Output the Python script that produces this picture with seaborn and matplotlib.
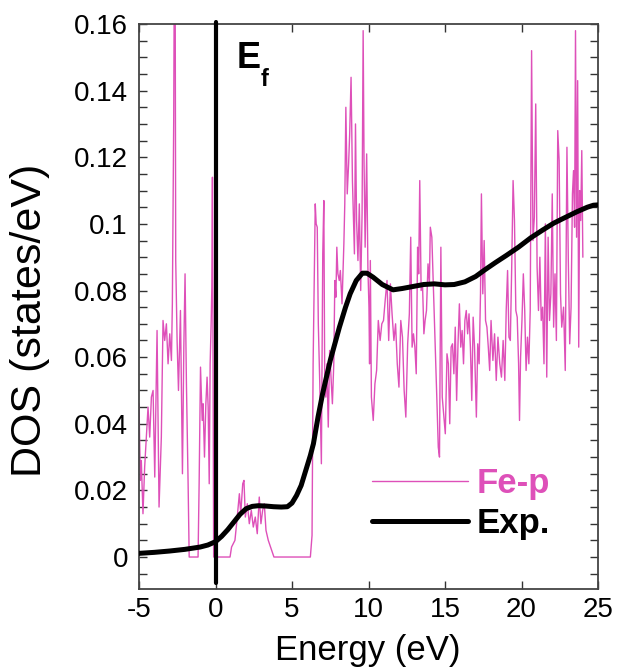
import matplotlib
matplotlib.use("Agg")
import matplotlib.pyplot as plt
import seaborn as sns
import pandas as pd

# ---------------- data ----------------
fe_x = [-5.00, -4.91, -4.85, -4.74, -4.63, -4.41, -4.30, -4.19, -4.08, -3.97,
        -3.82, -3.69, -3.54, -3.43, -3.32, -3.21, -3.10, -2.99, -2.88, -2.82,
        -2.73, -2.69, -2.64, -2.60, -2.51, -2.42, -2.29, -2.16, -2.07, -1.99,
        -1.90, -1.79, -1.72, -1.14, -1.07, -0.98, -0.87, -0.81, -0.72, -0.63,
        -0.55, -0.48, -0.41, -0.35, -0.28, -0.24, -0.20, -0.12, 0.95, 1.05,
        1.27, 1.38, 1.56, 1.65, 1.78, 1.86, 1.95, 2.08, 2.21, 2.34,
        2.47, 2.60, 2.73, 2.86, 2.97, 3.08, 3.19, 3.30, 3.45, 3.67,
        3.82, 6.20, 6.31, 6.38, 6.52, 6.58, 6.65, 6.72, 6.81, 6.92,
        7.01, 7.08, 7.14, 7.21, 7.28, 7.37, 7.46, 7.55, 7.64, 7.73,
        7.80, 7.87, 7.93, 8.00, 8.09, 8.16, 8.27, 8.39, 8.45, 8.52,
        8.61, 8.70, 8.77, 8.86, 8.95, 9.01, 9.08, 9.15, 9.22, 9.31,
        9.40, 9.49, 9.58, 9.65, 9.71, 9.78, 9.88, 9.96, 10.03, 10.07,
        10.12, 10.19, 10.31, 10.42, 10.53, 10.64, 10.76, 10.87, 10.98, 11.09,
        11.21, 11.32, 11.43, 11.54, 11.66, 11.77, 11.88, 11.99, 12.11, 12.22,
        12.33, 12.44, 12.56, 12.67, 12.76, 12.85, 12.94, 13.03, 13.12, 13.21,
        13.28, 13.35, 13.44, 13.53, 13.62, 13.70, 13.79, 13.89, 13.98, 14.04,
        14.14, 14.25, 14.36, 14.47, 14.56, 14.64, 14.73, 14.82, 14.91, 15.02,
        15.13, 15.22, 15.31, 15.40, 15.49, 15.58, 15.67, 15.76, 15.85, 15.94,
        16.03, 16.12, 16.21, 16.30, 16.39, 16.48, 16.57, 16.66, 16.75, 16.84,
        16.93, 17.05, 17.14, 17.23, 17.32, 17.38, 17.47, 17.56, 17.65, 17.74,
        17.83, 17.92, 18.01, 18.13, 18.24, 18.35, 18.46, 18.58, 18.69, 18.80,
        18.91, 19.00, 19.09, 19.18, 19.27, 19.36, 19.45, 19.54, 19.63, 19.72,
        19.81, 19.87, 19.94, 20.03, 20.12, 20.21, 20.30, 20.39, 20.48, 20.57,
        20.66, 20.75, 20.84, 20.93, 21.02, 21.11, 21.20, 21.29, 21.38, 21.47,
        21.56, 21.65, 21.74, 21.83, 21.92, 22.01, 22.10, 22.19, 22.28, 22.37,
        22.46, 22.55, 22.63, 22.75, 22.86, 22.97, 23.06, 23.15, 23.24, 23.33,
        23.40, 23.47, 23.53, 23.60, 23.67, 23.74, 23.80, 23.87, 23.94, 24.01]
fe_y = [0.046, 0.023, 0.029, 0.013, 0.027, 0.045, 0.036, 0.048, 0.050, 0.024,
        0.068, 0.015, 0.036, 0.071, 0.065, 0.070, 0.058, 0.067, 0.059, 0.076,
        0.132, 0.180, 0.180, 0.089, 0.065, 0.050, 0.074, 0.025, 0.063, 0.085,
        0.052, 0.022, 0.000, 0.000, 0.022, 0.057, 0.041, 0.046, 0.030, 0.046,
        0.054, 0.045, 0.022, 0.058, 0.071, 0.081, 0.114, 0.000, 0.000, 0.003,
        0.005, 0.010, 0.019, 0.013, 0.022, 0.023, 0.012, 0.016, 0.010, 0.014,
        0.009, 0.012, 0.007, 0.018, 0.010, 0.014, 0.016, 0.008, 0.005, 0.002,
        0.000, 0.000, 0.0065, 0.058, 0.106, 0.100, 0.099, 0.070, 0.053, 0.028,
        0.091, 0.107, 0.052, 0.048, 0.058, 0.039, 0.062, 0.054, 0.046, 0.058,
        0.083, 0.078, 0.093, 0.085, 0.083, 0.086, 0.076, 0.094, 0.106, 0.135,
        0.109, 0.118, 0.127, 0.144, 0.113, 0.103, 0.091, 0.130, 0.101, 0.089,
        0.106, 0.080, 0.103, 0.158, 0.118, 0.093, 0.121, 0.087, 0.075, 0.058,
        0.089, 0.048, 0.041, 0.052, 0.056, 0.071, 0.065, 0.070, 0.071, 0.077,
        0.083, 0.065, 0.082, 0.073, 0.065, 0.070, 0.058, 0.051, 0.071, 0.066,
        0.050, 0.042, 0.064, 0.073, 0.096, 0.063, 0.067, 0.063, 0.055, 0.093,
        0.085, 0.113, 0.080, 0.082, 0.067, 0.071, 0.074, 0.088, 0.082, 0.099,
        0.096, 0.080, 0.063, 0.047, 0.033, 0.030, 0.093, 0.048, 0.043, 0.037,
        0.061, 0.058, 0.040, 0.063, 0.064, 0.055, 0.069, 0.047, 0.064, 0.076,
        0.063, 0.068, 0.058, 0.071, 0.074, 0.067, 0.073, 0.063, 0.047, 0.072,
        0.063, 0.042, 0.064, 0.058, 0.079, 0.109, 0.079, 0.095, 0.071, 0.069,
        0.063, 0.056, 0.071, 0.059, 0.067, 0.053, 0.066, 0.058, 0.054, 0.065,
        0.053, 0.074, 0.086, 0.066, 0.065, 0.087, 0.113, 0.101, 0.074, 0.072,
        0.058, 0.041, 0.060, 0.071, 0.085, 0.074, 0.056, 0.066, 0.058, 0.074,
        0.152, 0.095, 0.102, 0.136, 0.087, 0.074, 0.090, 0.071, 0.075, 0.058,
        0.100, 0.054, 0.096, 0.071, 0.079, 0.109, 0.069, 0.085, 0.065, 0.128,
        0.119, 0.079, 0.069, 0.075, 0.056, 0.123, 0.089, 0.064, 0.075, 0.109,
        0.116, 0.099, 0.158, 0.096, 0.143, 0.063, 0.110, 0.101, 0.122, 0.090]

exp_x = [-5.0, -4.0, -3.0, -2.0, -1.0, -0.5, 0.0, 0.4, 0.8, 1.2,
         1.6, 2.0, 2.4, 2.8, 3.3, 3.8, 4.3, 4.7, 5.0, 5.3,
         5.6, 5.9, 6.2, 6.4, 6.7, 7.0, 7.5, 8.1, 8.5, 8.8,
         9.2, 9.6, 9.9, 10.3, 10.9, 11.6, 12.2, 12.9, 13.6, 14.3,
         15.0, 15.6, 16.3, 17.0, 17.6, 18.3, 19.0, 19.8, 20.6, 21.4,
         22.1, 22.8, 23.6, 24.3, 24.7, 25.0]
exp_y = [0.0011, 0.0014, 0.0018, 0.0023, 0.0030, 0.0036, 0.0046, 0.0062, 0.0082, 0.0105,
         0.0128, 0.0145, 0.0152, 0.0154, 0.0153, 0.0151, 0.0150, 0.0151, 0.0162, 0.0185,
         0.0215, 0.0260, 0.0305, 0.0340, 0.0420, 0.0490, 0.0590, 0.0690, 0.0750, 0.0790,
         0.0830, 0.0852, 0.0852, 0.0840, 0.0818, 0.0802, 0.0806, 0.0812, 0.0818, 0.0820,
         0.0817, 0.0818, 0.0826, 0.0842, 0.0862, 0.0884, 0.0905, 0.0930, 0.0958, 0.0982,
         0.1002, 0.1018, 0.1036, 0.1050, 0.1056, 0.1057]

x_ticks = [-5, 0, 5, 10, 15, 20, 25]
x_ticklabels = ["-5", "0", "5", "10", "15", "20", "25"]
y_ticks = [0, 0.02, 0.04, 0.06, 0.08, 0.1, 0.12, 0.14, 0.16]
y_ticklabels = ["0", "0.02", "0.04", "0.06", "0.08", "0.1", "0.12", "0.14", "0.16"]
series_labels = ["Fe-p", "Exp."]

PINK = "#DE50B9"

# ---------------- plot ----------------
sns.set_theme(style="ticks")
plt.rcParams["font.family"] = ["Liberation Sans", "DejaVu Sans"]
plt.rcParams["text.color"] = "black"
plt.rcParams["axes.labelcolor"] = "black"
plt.rcParams["xtick.color"] = "black"
plt.rcParams["ytick.color"] = "black"

fig = plt.figure(figsize=(6.17, 6.71), dpi=100)
ax = fig.add_axes([139 / 617, 82 / 671, 459 / 617, 565 / 671])

fe_df = pd.DataFrame({"E": fe_x, "DOS": fe_y})
exp_df = pd.DataFrame({"E": exp_x, "DOS": exp_y})

sns.lineplot(data=fe_df, x="E", y="DOS", ax=ax, color=PINK, lw=1.0,
             label=series_labels[0], sort=False, zorder=2)
sns.lineplot(data=exp_df, x="E", y="DOS", ax=ax, color="black", lw=3.6,
             label=series_labels[1], sort=False, zorder=3)

# Fermi level line
ax.plot([0, 0], [-0.0078, 0.1605], color="black", lw=3.0, clip_on=False, zorder=4)

ax.set_xlim(-5, 25)
ax.set_ylim(-0.0096, 0.16)
ax.set_xticks(x_ticks)
ax.set_xticklabels(x_ticklabels)
ax.set_yticks(y_ticks)
ax.set_yticklabels(y_ticklabels)
ax.set_yticks([i * 0.005 for i in range(-1, 33)], minor=True)

ax.tick_params(axis="both", which="both", direction="in", length=6, width=1.0,
               color="#333333", top=True, right=True, labelsize=20)
ax.tick_params(axis="x", which="minor", length=0)
ax.tick_params(axis="y", pad=8)
ax.tick_params(axis="x", pad=6)
for s in ax.spines.values():
    s.set_color("#444444")
    s.set_linewidth(1.3)

ax.set_xlabel("Energy (eV)", fontsize=25, va="center", ha="center")
ax.xaxis.set_label_coords(0.498, -0.108)
ax.set_ylabel("DOS (states/eV)", fontsize=31, va="center", ha="center")
ax.yaxis.set_label_coords(-0.2375, 0.476)

# E_f label
ax.text(1.35, 0.1467, "E", fontsize=26, fontweight="bold", ha="left", va="baseline")
ax.text(2.95, 0.1415, "f", fontsize=17, fontweight="bold", ha="left", va="baseline")

leg = ax.legend(loc="lower right", bbox_to_anchor=(0.933, 0.056), frameon=False,
                prop={"weight": "bold", "size": 25}, handlelength=2.75,
                handletextpad=0.25, labelspacing=0.2, borderpad=0,
                labelcolor="linecolor")

fig.savefig("out.png", dpi=100)
